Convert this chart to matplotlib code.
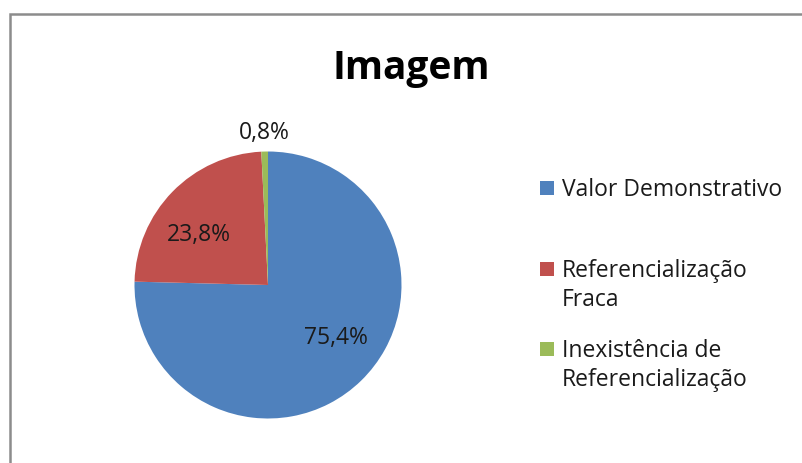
import numpy as np
import matplotlib
matplotlib.use("Agg")
import matplotlib.pyplot as plt
from matplotlib.patches import Rectangle

# ---- data ----
categories = ["Valor Demonstrativo", "Referencialização\nFraca", "Inexistência de\nReferencialização"]
values = [75.4, 23.8, 0.8]
colors = ["#4F81BD", "#C0504D", "#9BBB59"]
title = "Imagem"

FONT = "Open Sans"
W, H = 802, 464
fig = plt.figure(figsize=(W / 100, H / 100), dpi=100)
fig.patch.set_facecolor("white")

def fx(px):
    return px / W

def fy(py):
    return 1 - py / H

# chart border (top and left visible)
fig.add_artist(Rectangle((fx(10), fy(H + 20)), fx(W + 20), (H + 5) / H,
                         transform=fig.transFigure, fill=False,
                         edgecolor="#8c8c8c", linewidth=1.8))

# pie axes
cx, cy, r = 268, 286, 133.5
ax = fig.add_axes([fx(cx - r), fy(cy + r), (2 * r) / W, (2 * r) / H])
wedges, _ = ax.pie(values, colors=colors, startangle=90, counterclock=False,
                   radius=1.0, wedgeprops=dict(linewidth=0))
ax.set_xlim(-1, 1)
ax.set_ylim(-1, 1)
ax.set_aspect("equal")
ax.axis("off")

total = sum(values)
for w, v in zip(wedges, values):
    mid = np.deg2rad((w.theta1 + w.theta2) / 2)
    if v / total < 0.05:
        rr, rot = 1.15, 0.0
    else:
        rr, rot = 0.64, np.deg2rad(8)
    ang = mid + rot
    lbl = f"{v:.1f}".replace(".", ",") + "%"
    ax.text(rr * np.cos(ang), rr * np.sin(ang), lbl, ha="center", va="center",
            fontsize=16.5, family=FONT, color="#1a1a1a", clip_on=False)

# title
fig.text(fx(411), fy(79.5), title, ha="center", va="baseline",
         fontsize=28, fontweight="bold", family=FONT, color="black")

# legend (manual)
first_baselines = [196, 277.5, 357.5]
line_gap = 29
for cat, col, b in zip(categories, colors, first_baselines):
    fig.add_artist(Rectangle((fx(540), fy(b - 0.5)), fx(14), 14 / H,
                             transform=fig.transFigure, facecolor=col,
                             edgecolor="none"))
    for i, line in enumerate(cat.split("\n")):
        fig.text(fx(562), fy(b + i * line_gap), line, ha="left", va="baseline",
                 fontsize=16.5, family=FONT, color="#1a1a1a")

fig.savefig("out.png", dpi=100, facecolor="white")
